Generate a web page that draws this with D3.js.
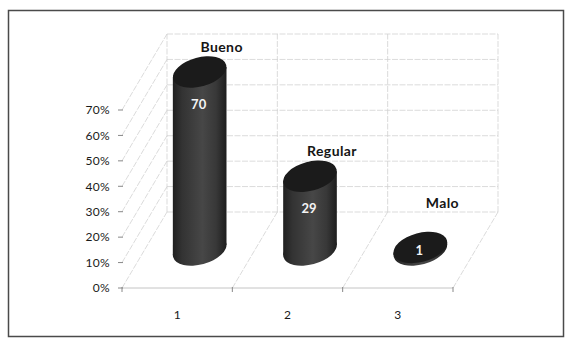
<!DOCTYPE html>
<html>
<head>
<meta charset="utf-8">
<script src="https://cdn.jsdelivr.net/npm/d3@7"></script>
<style>
  html, body { margin: 0; padding: 0; background: #fff; }
  svg { display: block; }
  text { font-family: Lato, "Open Sans", sans-serif; }
</style>
</head>
<body>
<svg id="chart" width="566" height="340"></svg>
<script>
// Survey result: share of responses per rating
const categories = ["1", "2", "3"];
const ratingNames = ["Bueno", "Regular", "Malo"];
const values = [70, 29, 1];
const yTicks = [0, 10, 20, 30, 40, 50, 60, 70];

const svg = d3.select("#chart");

// outer frame
svg.append("rect")
  .attr("x", 8.5).attr("y", 10.5)
  .attr("width", 555).attr("height", 326)
  .attr("fill", "#fff")
  .attr("stroke", "#4a4a4a").attr("stroke-width", 1.5);

// front plane scales
const y = d3.scaleLinear().domain([0, 70]).range([288, 110]);
const x = d3.scaleBand().domain(categories).range([122, 453]);

// depth offset of the back wall relative to the front plane
const DX = 45, DY = -76;

const grid = svg.append("g")
  .attr("stroke", "#d2d2d2")
  .attr("stroke-width", 0.8)
  .attr("stroke-dasharray", "6,1.5")
  .attr("fill", "none");

// back wall horizontal gridlines
yTicks.forEach(v => {
  grid.append("line")
    .attr("x1", x.range()[0] + DX).attr("x2", x.range()[1] + DX)
    .attr("y1", y(v) + DY).attr("y2", y(v) + DY);
  // side wall slanted lines
  grid.append("line")
    .attr("x1", x.range()[0]).attr("y1", y(v))
    .attr("x2", x.range()[0] + DX).attr("y2", y(v) + DY);
});

// back wall verticals and floor diagonals at category boundaries
const bounds = categories.map(c => x(c)).concat([x.range()[1]]);
bounds.forEach((bx, i) => {
  grid.append("line")
    .attr("x1", bx + DX).attr("x2", bx + DX)
    .attr("y1", y(0) + DY).attr("y2", y(70) + DY);
  if (i > 0) {
    grid.append("line")
      .attr("x1", bx).attr("y1", y(0))
      .attr("x2", bx + DX).attr("y2", y(0) + DY);
  }
});

// floor front edge (category axis)
svg.append("line")
  .attr("x1", x.range()[0]).attr("x2", x.range()[1])
  .attr("y1", y(0)).attr("y2", y(0))
  .attr("stroke", "#c4c4c4").attr("stroke-width", 1);
bounds.forEach(bx => {
  svg.append("line")
    .attr("x1", bx).attr("x2", bx)
    .attr("y1", y(0) - 1).attr("y2", y(0) + 4)
    .attr("stroke", "#888").attr("stroke-width", 1);
});

// value axis ticks and labels
const yAxis = svg.append("g");
yTicks.forEach(v => {
  yAxis.append("line")
    .attr("x1", x.range()[0] - 4).attr("x2", x.range()[0] + 1)
    .attr("y1", y(v)).attr("y2", y(v))
    .attr("stroke", "#888").attr("stroke-width", 1);
  yAxis.append("text")
    .attr("x", x.range()[0] - 12).attr("y", y(v))
    .attr("dy", "0.36em")
    .attr("text-anchor", "end")
    .attr("font-size", 12)
    .attr("letter-spacing", "0.3px")
    .attr("fill", "#1a1a1a")
    .text(v + "%");
});

// category labels
categories.forEach(c => {
  svg.append("text")
    .attr("x", x(c) + x.bandwidth() / 2)
    .attr("y", y(0) + 31)
    .attr("text-anchor", "middle")
    .attr("font-size", 12)
    .attr("fill", "#1a1a1a")
    .text(c);
});

// cylinders: tilted ellipses for top and base
const RX = 27.5, RY = 14.5, ROT = -15 * Math.PI / 180;
const cosR = Math.cos(ROT), sinR = Math.sin(ROT);
function ellPoint(cx, cy, t) {
  return [cx + RX * Math.cos(t) * cosR - RY * Math.sin(t) * sinR,
          cy + RX * Math.cos(t) * sinR + RY * Math.sin(t) * cosR];
}
function ellipsePath(cx, cy) {
  const p = ellPoint(cx, cy, 0), q = ellPoint(cx, cy, Math.PI);
  const deg = ROT * 180 / Math.PI;
  return `M${p[0]},${p[1]}A${RX},${RY} ${deg} 1 0 ${q[0]},${q[1]}A${RX},${RY} ${deg} 1 0 ${p[0]},${p[1]}Z`;
}
// parameter where the outline is vertical (silhouette edges)
const tEdge = Math.atan2(-RY * sinR, RX * cosR);

const defs = svg.append("defs");
const bars = svg.append("g");

values.forEach((v, i) => {
  const c = categories[i];
  const cx = x(c) + x.bandwidth() / 2 + DX / 2;
  const yBase = y(0) + DY / 2;
  const yTop = y(v) + DY / 2;

  const gid = "side" + i;
  const grad = defs.append("linearGradient")
    .attr("id", gid).attr("gradientUnits", "userSpaceOnUse")
    .attr("x1", cx - RX).attr("x2", cx + RX).attr("y1", 0).attr("y2", 0);
  [[0, "#1e1e1e"], [0.18, "#333"], [0.55, "#474747"], [0.8, "#383838"], [1, "#1c1c1c"]]
    .forEach(([o, col]) => grad.append("stop").attr("offset", o).attr("stop-color", col));

  const g = bars.append("g");
  // base
  g.append("path").attr("d", ellipsePath(cx, yBase)).attr("fill", `url(#${gid})`);
  // side between silhouette points
  const a1 = ellPoint(cx, yTop, tEdge), a2 = ellPoint(cx, yTop, tEdge + Math.PI);
  const b1 = ellPoint(cx, yBase, tEdge), b2 = ellPoint(cx, yBase, tEdge + Math.PI);
  g.append("path")
    .attr("d", `M${a1}L${b1}L${b2}L${a2}Z`)
    .attr("fill", `url(#${gid})`);
  // top
  g.append("path").attr("d", ellipsePath(cx, yTop)).attr("fill", "#1b1b1b");

  // rating name above the cylinder
  svg.append("text")
    .attr("x", cx + 22)
    .attr("y", Math.min(yTop - 20, yBase - 42))
    .attr("text-anchor", "middle")
    .attr("font-size", 14)
    .attr("font-weight", "bold")
    .attr("letter-spacing", "0.4px")
    .attr("fill", "#151515")
    .text(ratingNames[i]);

  // value inside the cylinder
  svg.append("text")
    .attr("x", cx - 1)
    .attr("y", Math.min(yTop + 32, yBase))
    .attr("dy", "0.36em")
    .attr("text-anchor", "middle")
    .attr("font-size", 13)
    .attr("font-weight", "bold")
    .attr("fill", "#f4f4f4")
    .text(v);
});
</script>
</body>
</html>
